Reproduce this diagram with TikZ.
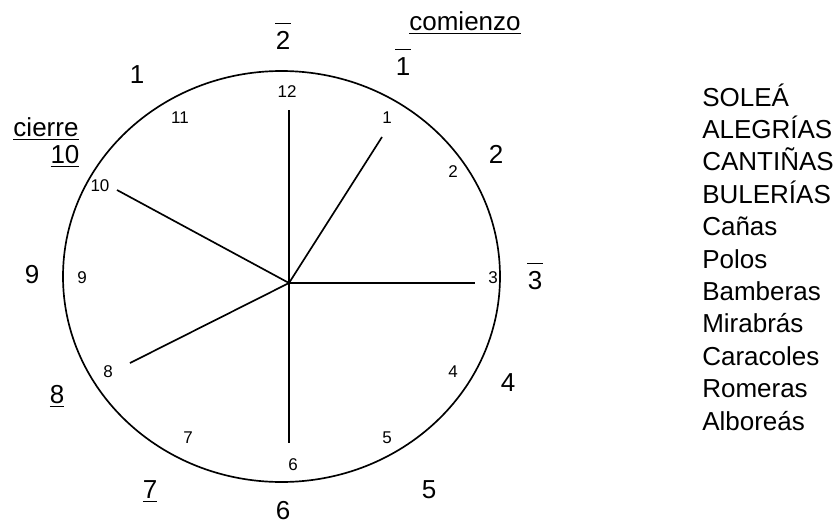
\documentclass[tikz,border=0pt]{standalone}
\usepackage{fontspec}
\setmainfont{Liberation Sans}
\usetikzlibrary{positioning}
\newcommand{\overbar}[1]{\setbox0\hbox{\kern0.5pt#1\kern0.5pt}\vbox{\hrule width\wd0 height 1pt\vskip 5pt\box0}}
\newcommand{\ulined}[1]{\vtop{\hbox{#1}\vskip 2pt\hrule height 1pt}}

\begin{document}
\begin{tikzpicture}[x=0.75pt, y=-0.75pt,
  hand/.style={line width=1.25pt},
  hour/.style={anchor=base, inner sep=0pt, font=\fontsize{12.75}{15}\selectfont},
  beat/.style={anchor=base, inner sep=0pt, font=\fontsize{19.5}{23}\selectfont},
  palo/.style={anchor=base west, inner sep=0pt, font=\fontsize{19.5}{23}\selectfont}]
\useasboundingbox (0,0) rectangle (837,525);
% dial
\draw[hand] (281.5,276.5) ellipse [x radius=218.5, y radius=205.5];
\coordinate (c) at (289,283);
\coordinate (e12) at (289,110);
\coordinate (e1) at (382,137);
\coordinate (e3) at (475,283);
\coordinate (e6) at (289,443);
\coordinate (e8) at (130,363);
\coordinate (e10) at (117,190);
\draw[hand] (c) -- (e12);
\draw[hand] (c) -- (e1);
\draw[hand] (c) -- (e3);
\draw[hand] (c) -- (e6);
\draw[hand] (c) -- (e8);
\draw[hand] (c) -- (e10);
% hours on the dial
\node[hour] (h12) at (287,97) {12};
\node[hour] (h11) at (180,123) {11};
\node[hour] (h1) at (387,123) {1};
\node[hour] (h2) at (453,177) {2};
\node[hour] (h3) at (493,283) {3};
\node[hour] (h4) at (453,377) {4};
\node[hour] (h5) at (387,443) {5};
\node[hour] (h6) at (293,470) {6};
\node[hour] (h7) at (188,443) {7};
\node[hour] (h8) at (108,377) {8};
\node[hour] (h9) at (82,283) {9};
\node[hour] (h10) at (100,191) {10};
% count of the compas
\node[beat] (b1) at (403,75) {\overbar{1}};
\node[beat] (b2) at (496,163) {2};
\node[beat] (b3) at (535,289) {\overbar{3}};
\node[beat] (b4) at (508,391) {4};
\node[beat] (b5) at (429,498) {5};
\node[beat] (b6) at (283,519) {6};
\node[beat] (b7) at (150,498) {\ulined{7}};
\node[beat] (b8) at (57,403) {\ulined{8}};
\node[beat] (b9) at (32,283) {9};
\node[beat] (b10) at (65,163) {\ulined{10}};
\node[beat] (b11) at (137,83) {1};
\node[beat] (b12) at (283,49) {\overbar{2}};
\node[beat] (start) at (465,30) {\ulined{comienzo}};
\node[beat] (close) at (46,136) {\ulined{cierre}};
% palos
\node[palo] (p1) at (702,106) {SOLEÁ};
\node[palo] (p2) at ([yshift=-24.3pt]p1.base west) {ALEGRÍAS};
\node[palo] (p3) at ([yshift=-24.3pt]p2.base west) {CANTIÑAS};
\node[palo] (p4) at ([yshift=-24.3pt]p3.base west) {BULERÍAS};
\node[palo] (p5) at ([yshift=-24.3pt]p4.base west) {Cañas};
\node[palo] (p6) at ([yshift=-24.3pt]p5.base west) {Polos};
\node[palo] (p7) at ([yshift=-24.3pt]p6.base west) {Bamberas};
\node[palo] (p8) at ([yshift=-24.3pt]p7.base west) {Mirabrás};
\node[palo] (p9) at ([yshift=-24.3pt]p8.base west) {Caracoles};
\node[palo] (p10) at ([yshift=-24.3pt]p9.base west) {Romeras};
\node[palo] (p11) at ([yshift=-24.3pt]p10.base west) {Alboreás};
\end{tikzpicture}
\end{document}
